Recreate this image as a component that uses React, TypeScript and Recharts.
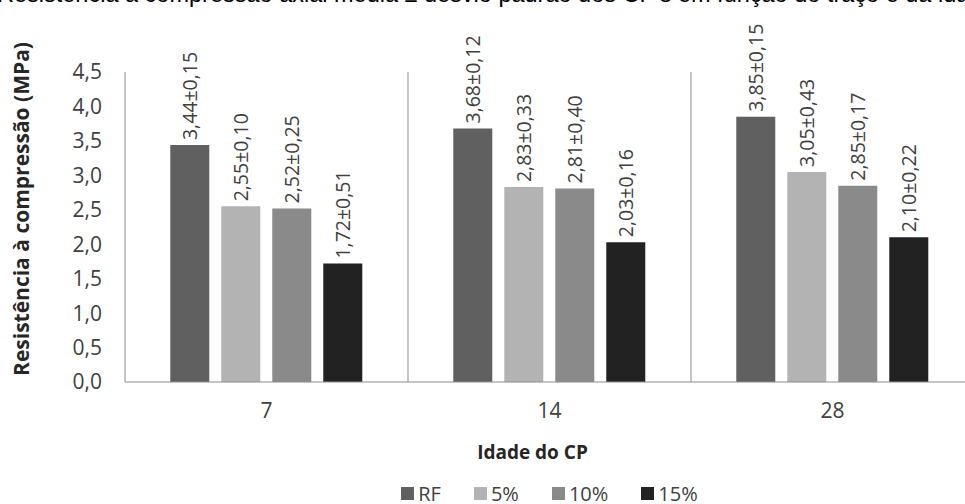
import { BarChart, Bar, XAxis, YAxis, CartesianGrid, LabelList, Label } from "recharts";

const ages = ["7", "14", "28"];
const seriesNames = ["RF", "5%", "10%", "15%"];
const seriesColors = ["#606060", "#b3b3b3", "#8a8a8a", "#222222"];

const rfMean = [3.44, 3.68, 3.85];
const rfSd = [0.15, 0.12, 0.15];
const p5Mean = [2.55, 2.83, 3.05];
const p5Sd = [0.1, 0.33, 0.43];
const p10Mean = [2.52, 2.81, 2.85];
const p10Sd = [0.25, 0.4, 0.17];
const p15Mean = [1.72, 2.03, 2.1];
const p15Sd = [0.51, 0.16, 0.22];

const yTicks = [0, 0.5, 1, 1.5, 2, 2.5, 3, 3.5, 4, 4.5];

const means = [rfMean, p5Mean, p10Mean, p15Mean];
const sds = [rfSd, p5Sd, p10Sd, p15Sd];

const fmt = (v: number, d: number) => v.toFixed(d).replace(".", ",");

const data = ages.map((age, i) => {
    const row: Record<string, string | number> = { age };
    means.forEach((m, s) => {
        row[`s${s}`] = m[i];
        row[`l${s}`] = `${fmt(m[i], 2)}±${fmt(sds[s][i], 2)}`;
    });
    return row;
});

const FONT = "'Open Sans', sans-serif";

const renderLabel = (props: any) => {
    const { x, y, width, value } = props;
    const cx = Number(x) + Number(width) / 2;
    const ty = Number(y) - 5;
    return (
        <text
            x={cx}
            y={ty}
            transform={`rotate(-90 ${cx} ${ty})`}
            textAnchor="start"
            dominantBaseline="central"
            fontSize={19.5}
            fontFamily={FONT}
            fill="#404040"
        >
            {value}
        </text>
    );
};

export default function App() {
    return (
        <div
            style={{
                position: "absolute",
                left: 0,
                top: 0,
                width: 965,
                height: 504,
                overflow: "hidden",
                background: "#fff",
            }}
        >
            {/* caption of the figure, cut off at the top of the picture */}
            <div
                style={{
                    position: "absolute",
                    left: -3,
                    top: -17,
                    fontFamily: "'Liberation Sans', Arial, sans-serif",
                    fontSize: 23.5,
                    lineHeight: "23px",
                    whiteSpace: "nowrap",
                    color: "#000",
                }}
            >
                Resistência à compressão axial média ± desvio padrão dos CP's em função do traço e da idade
            </div>

            <div style={{ position: "absolute", left: 0, top: 0 }}>
                <BarChart
                    width={985}
                    height={504}
                    data={data}
                    margin={{ top: 72, right: 11, left: 0, bottom: 82 }}
                    barGap={12}
                    barCategoryGap="16%"
                >
                    <CartesianGrid
                        horizontal={false}
                        stroke="#8c8c8c"
                        verticalCoordinatesGenerator={({ xAxis, offset }: any) => {
                            const s = xAxis?.scale;
                            if (typeof s === "function") {
                                return ages.slice(1).map((a) => Number(s(a)));
                            }
                            return ages
                                .slice(1)
                                .map((_, i) => offset.left + ((i + 1) * offset.width) / ages.length);
                        }}
                    />
                    <XAxis
                        dataKey="age"
                        height={40}
                        stroke="#8c8c8c"
                        tickLine={false}
                        tickSize={0}
                        tickMargin={21}
                        tick={{ fontSize: 21, fill: "#404040", fontFamily: FONT }}
                    >
                        <Label
                            value="Idade do CP"
                            position="center"
                            dx={-17}
                            dy={50}
                            style={{ fontSize: 19, fontWeight: 700, fill: "#262626", fontFamily: FONT }}
                        />
                    </XAxis>
                    <YAxis
                        width={125}
                        domain={[0, 4.5]}
                        ticks={yTicks}
                        interval={0}
                        stroke="#8c8c8c"
                        tickLine={false}
                        tickSize={0}
                        tickMargin={23}
                        tickFormatter={(v: number) => fmt(v, 1)}
                        tick={{ fontSize: 21, fill: "#404040", fontFamily: FONT }}
                    >
                        <Label
                            value="Resistência à compressão (MPa)"
                            position="center"
                            angle={-90}
                            dx={-41}
                            dy={-18}
                            style={{ fontSize: 21, fontWeight: 700, fill: "#262626", fontFamily: FONT, textAnchor: "middle" }}
                        />
                    </YAxis>
                    {seriesNames.map((name, i) => (
                        <Bar
                            key={name}
                            dataKey={`s${i}`}
                            name={name}
                            fill={seriesColors[i]}
                            isAnimationActive={false}
                        >
                            <LabelList dataKey={`l${i}`} content={renderLabel} />
                        </Bar>
                    ))}
                </BarChart>
            </div>

            {/* legend */}
            <div
                style={{
                    position: "absolute",
                    left: 125,
                    width: 849,
                    top: 484,
                    height: 19,
                    display: "flex",
                    justifyContent: "center",
                    gap: 33,
                    fontFamily: FONT,
                    fontSize: 20,
                    color: "#404040",
                    lineHeight: "19px",
                }}
            >
                {seriesNames.map((name, i) => (
                    <div key={name} style={{ display: "flex", alignItems: "center", gap: 4 }}>
                        <span style={{ width: 13, height: 13, background: seriesColors[i], display: "inline-block" }} />
                        <span>{name}</span>
                    </div>
                ))}
            </div>
        </div>
    );
}
